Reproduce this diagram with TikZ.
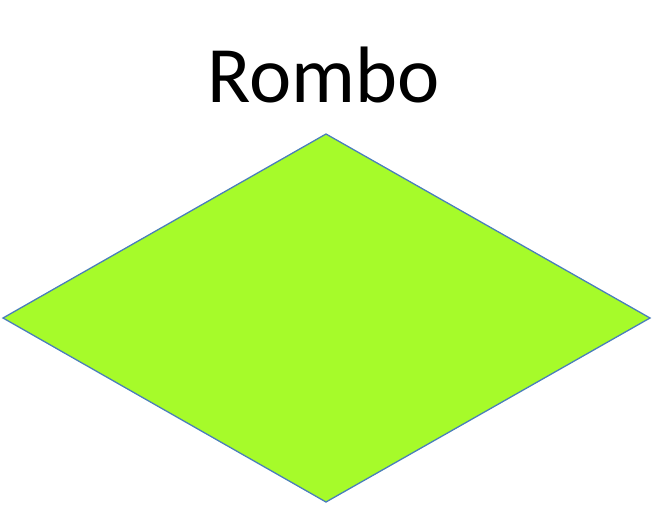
\documentclass[tikz,border=0pt]{standalone}
\usepackage{fontspec}
\setmainfont{Carlito}
\definecolor{rombofill}{RGB}{166,251,42}
\definecolor{romboline}{RGB}{74,126,187}
\tikzset{rombo/.style={fill=rombofill,draw=romboline,line width=1.3pt,line join=miter}}
\begin{document}
\begin{tikzpicture}[x=1pt,y=-1pt]
\useasboundingbox (0,0) rectangle (652,505);
\coordinate (t) at (326,134);
\coordinate (l) at (3,318);
\coordinate (r) at (650,318);
\coordinate (b) at (326,502);
\path[rombo] (t) -- (r) -- (b) -- (l) -- cycle;
\node[anchor=base,inner sep=0pt,font=\fontsize{80}{90}\selectfont] (title) at (324,103) {Rombo};
\end{tikzpicture}
\end{document}
